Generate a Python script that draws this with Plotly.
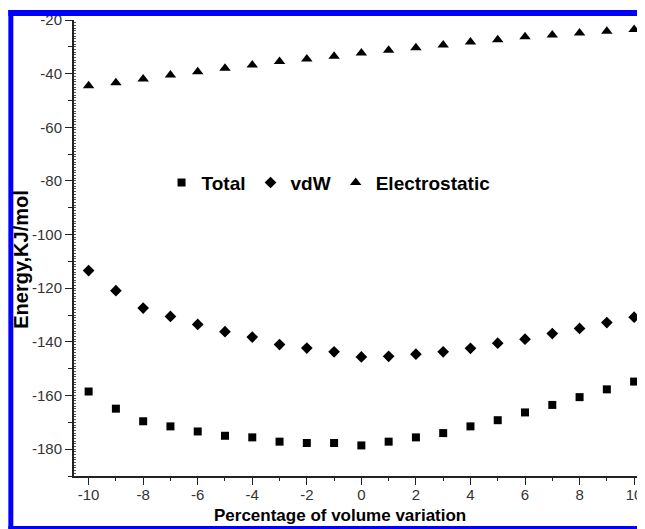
import plotly.graph_objects as go

volume_pct = [-10, -9, -8, -7, -6, -5, -4, -3, -2, -1, 0, 1, 2, 3, 4, 5, 6, 7, 8, 9, 10]
total = [-158.5, -164.9, -169.6, -171.5, -173.4, -175.0, -175.6, -177.2, -177.7, -177.7,
         -178.6, -177.2, -175.6, -174.0, -171.5, -169.2, -166.3, -163.5, -160.6, -157.7, -154.8]
vdw = [-113.4, -120.9, -127.4, -130.5, -133.5, -136.2, -138.2, -141.0, -142.3, -143.7,
       -145.6, -145.4, -144.6, -143.7, -142.4, -140.5, -139.0, -136.9, -135.0, -132.8, -130.8]
electrostatic = [-44.5, -43.4, -42.0, -40.5, -39.3, -38.0, -36.8, -35.5, -34.5, -33.5,
                 -32.3, -31.3, -30.3, -29.3, -28.2, -27.4, -26.2, -25.6, -24.8, -24.2, -23.5]

x_tickvals = [-10, -8, -6, -4, -2, 0, 2, 4, 6, 8, 10]
x_ticktext = ["-10", "-8", "-6", "-4", "-2", "0", "2", "4", "6", "8", "10"]
y_tickvals = [-180, -160, -140, -120, -100, -80, -60, -40, -20]
y_ticktext = ["-180", "-160", "-140", "-120", "-100", "-80", "-60", "-40", "-20"]

series_names = ["Total", "vdW", "Electrostatic"]

XR = [-10.536, 10.179]
YR = [-190, -20]
OFF = 8  # page body margin
W, H = 645 - OFF, 529 - OFF
L, R, T, B = 74 - OFF, 3, 19 - OFF, 53
PW, PH = W - L - R, H - T - B


def px2x(px):  # px in window (reference) coordinates
    return (px - OFF - L) / PW


def py2y(py):
    return (H - B - (py - OFF)) / PH


fig = go.Figure()
fig.add_trace(go.Scatter(x=volume_pct, y=total, mode="markers", name=series_names[0],
                         marker=dict(symbol="square", size=8, color="black")))
fig.add_trace(go.Scatter(x=volume_pct, y=vdw, mode="markers", name=series_names[1],
                         marker=dict(symbol="diamond", size=9, color="black")))
fig.add_trace(go.Scatter(x=volume_pct, y=electrostatic, mode="markers", name=series_names[2],
                         marker=dict(symbol="triangle-up", size=10, color="black")))
# invisible trace to carry the fine-tick overlay axis
fig.add_trace(go.Scatter(x=[volume_pct[0]], y=[electrostatic[0]], yaxis="y2", mode="markers",
                         marker=dict(opacity=0), showlegend=False, hoverinfo="skip"))

tickfont = dict(family="Liberation Sans, Arial", size=15, color="#333333")

fig.update_layout(
    width=W, height=H,
    margin=dict(l=L, r=R, t=T, b=B, pad=0),
    paper_bgcolor="white", plot_bgcolor="white",
    showlegend=True,
    legend=dict(orientation="h", x=px2x(162), y=py2y(182), xanchor="left", yanchor="middle",
                font=dict(family="Liberation Sans, Arial", size=19, color="black", weight="bold"),
                bgcolor="rgba(0,0,0,0)", itemwidth=30),
    xaxis=dict(range=XR, showgrid=False, zeroline=False, showline=True, linecolor="#222222", linewidth=2,
               tickmode="array", tickvals=x_tickvals, ticktext=x_ticktext,
               ticks="outside", ticklen=7, tickwidth=1, tickcolor="#222222",
               minor=dict(dtick=1, tick0=0, ticks="outside", ticklen=3, tickwidth=1, tickcolor="#222222", showgrid=False),
               tickfont=tickfont, ticklabelstandoff=-3, ticklabeloverflow="allow"),
    yaxis=dict(range=YR, showgrid=False, zeroline=False, showline=True, linecolor="#222222", linewidth=2,
               tickmode="array", tickvals=y_tickvals, ticktext=y_ticktext,
               ticks="outside", ticklen=7, tickwidth=1, tickcolor="#222222",
               minor=dict(dtick=10, tick0=0, ticks="outside", ticklen=4, tickwidth=1, tickcolor="#222222", showgrid=False),
               tickfont=tickfont, ticklabelstandoff=0, ticklabeloverflow="allow"),
    yaxis2=dict(range=YR, overlaying="y", side="left", showgrid=False, zeroline=False, showline=False,
                tickmode="linear", tick0=0, dtick=1, ticks="inside", ticklen=2, tickwidth=1,
                tickcolor="#555555", showticklabels=False),
)

fig.add_annotation(text="Energy,KJ/mol", textangle=-90, xref="paper", yref="paper",
                   x=px2x(21), y=py2y(259), xanchor="center", yanchor="middle", showarrow=False,
                   font=dict(family="Liberation Sans, Arial", size=20, color="black", weight="bold"))
fig.add_annotation(text="Percentage of volume variation", xref="paper", yref="paper",
                   x=px2x(341), y=py2y(516), xanchor="center", yanchor="middle", showarrow=False,
                   font=dict(family="Liberation Sans, Arial", size=17, color="black", weight="bold"))

blue = "#0000ff"
# frame around the figure
fig.add_shape(type="rect", xref="paper", yref="paper", x0=px2x(8), x1=px2x(645), y0=py2y(9), y1=py2y(15),
              fillcolor=blue, line_width=0, layer="above")
fig.add_shape(type="rect", xref="paper", yref="paper", x0=px2x(8), x1=px2x(13), y0=py2y(9), y1=py2y(529),
              fillcolor=blue, line_width=0, layer="above")
fig.add_shape(type="rect", xref="paper", yref="paper", x0=px2x(8), x1=px2x(645), y0=py2y(526), y1=py2y(529),
              fillcolor=blue, line_width=0, layer="above")
fig.add_shape(type="rect", xref="paper", yref="paper", x0=px2x(643.5), x1=px2x(645), y0=py2y(9), y1=py2y(529),
              fillcolor="#7070ff", line_width=0, layer="above")

fig.write_html("out.html")
